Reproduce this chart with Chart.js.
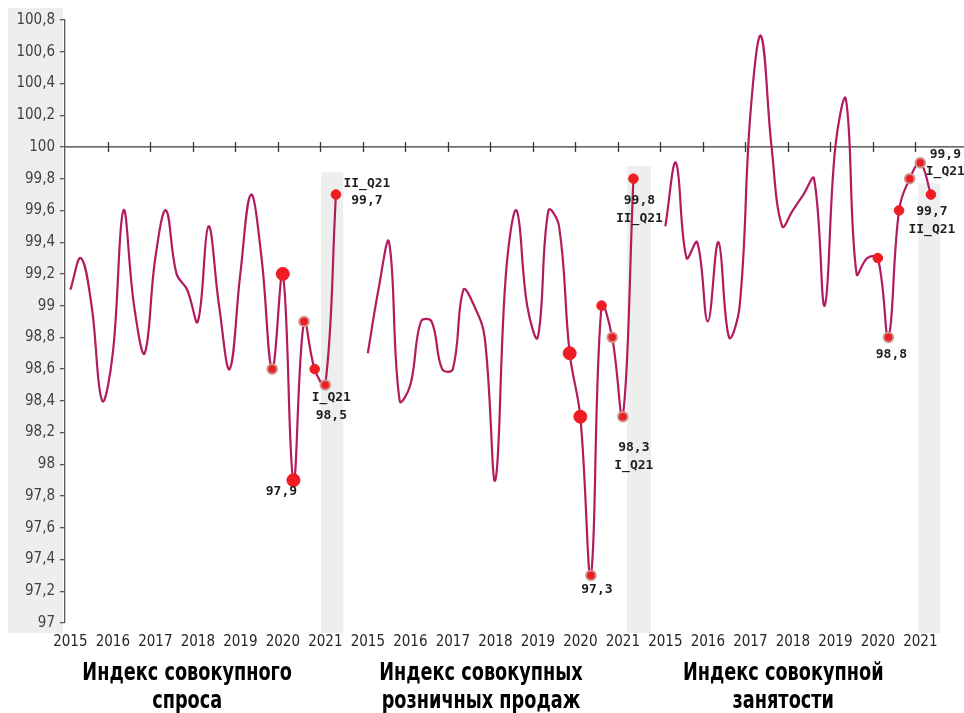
<!DOCTYPE html>
<html><head><meta charset="utf-8">
<script src="https://cdn.jsdelivr.net/npm/chart.js@4.4.1/dist/chart.umd.min.js"></script>
<style>html,body{margin:0;padding:0;background:#fff;}#wrap{position:relative;width:964px;height:713px;}</style>
</head><body><div id="wrap"><canvas id="c" width="964" height="713"></canvas></div>
<script>
// ---- data ----
const years = ['2015','2016','2017','2018','2019','2020','2021'];
const quarterNames = ['I','II','III','IV'];
const panelTitles = [
  ['Индекс совокупного','спроса'],
  ['Индекс совокупных','розничных продаж'],
  ['Индекс совокупной','занятости']
];
const demandIndex = [99.1, 99.3, 99.0, 98.4, 98.7, 99.6, 99.0, 98.7, 99.3, 99.6, 99.2, 99.1, 98.9, 99.5, 99.0, 98.6, 99.2, 99.7, 99.3, 98.6, 99.2, 97.9, 98.9, 98.6, 98.5, 99.7];
const retailIndex = [98.7, 99.1, 99.4, 98.4, 98.5, 98.9, 98.9, 98.6, 98.6, 99.1, 99.0, 98.8, 97.9, 99.2, 99.6, 99.0, 98.8, 99.6, 99.5, 98.7, 98.3, 97.3, 99.0, 98.8, 98.3, 99.8];
const employmentIndex = [99.5, 99.9, 99.3, 99.4, 98.9, 99.4, 98.8, 99.0, 100.2, 100.7, 100.0, 99.5, 99.6, 99.7, 99.8, 99.0, 100.0, 100.3, 99.2, 99.3, 99.3, 98.8, 99.6, 99.8, 99.9, 99.7];
const yTickValues = [97, 97.2, 97.4, 97.6, 97.8, 98, 98.2, 98.4, 98.6, 98.8, 99, 99.2, 99.4, 99.6, 99.8, 100, 100.2, 100.4, 100.6, 100.8];
const axisCross = 100;

// ---- style config (not data) ----
const seriesList = [demandIndex, retailIndex, employmentIndex];
const markerStyle = [
  {from: 19, big: [20, 21], halo: [19, 22, 24]},
  {from: 19, big: [19, 20], halo: [21, 23, 24]},
  {from: 20, big: [], halo: [21, 23, 24]}
];
// callouts: series, offset in series, lines ('v' = value, 'q' = quarter tag), dx, dy per line (px from point)
const callouts = [
  {s: 0, i: 21, lines: ['v'], dx: -12, dy: [11]},
  {s: 0, i: 24, lines: ['q', 'v'], dx: 6, dy: [13, 31]},
  {s: 0, i: 25, lines: ['q', 'v'], dx: 31, dy: [-11, 6]},
  {s: 1, i: 21, lines: ['v'], dx: 6, dy: [14]},
  {s: 1, i: 24, lines: ['v', 'q'], dx: 11, dy: [31, 49]},
  {s: 1, i: 25, lines: ['v', 'q'], dx: 6, dy: [22, 40]},
  {s: 2, i: 21, lines: ['v'], dx: 3, dy: [17]},
  {s: 2, i: 24, lines: ['v', 'q'], dx: 25, dy: [-8, 9]},
  {s: 2, i: 25, lines: ['v', 'q'], dx: 1, dy: [17, 35]}
];
// shaded 2021 bands, in category-index units and value units
const bands = [
  {from: 23.6, to: 25.7, top: 99.84},
  {from: 52.4, to: 54.65, top: 99.88},
  {from: 79.8, to: 81.9, top: 99.77}
];
const titleAnchors = [11, 38.65, 67.1];

const slots = years.length * 4;
const labels = [];
seriesList.forEach(() => years.forEach(y => quarterNames.forEach((q, qi) => labels.push(qi === 0 ? y : ''))));

const fmt = v => String(Math.round(v * 10) / 10).replace('.', ',');
const qTag = i => quarterNames[i % 4] + '_Q' + years[Math.floor(i / 4)].slice(2);

const LINE = '#B31B5F', DOT = '#EE1D23', HALO = '#C9968C';

const datasets = seriesList.map((s, p) => {
  const data = new Array(labels.length).fill(null);
  s.forEach((v, i) => { data[p * slots + i] = v; });
  const st = markerStyle[p];
  const off = ctx => ctx.dataIndex - p * slots;
  return {
    data,
    borderColor: LINE,
    borderWidth: 2.2,
    tension: 0.4,
    fill: false,
    spanGaps: false,
    pointRadius: ctx => { const o = off(ctx); if (o < st.from || o >= s.length) return 0; return st.big.includes(o) ? 6.5 : 4.8; },
    pointBackgroundColor: DOT,
    pointBorderColor: ctx => st.halo.includes(off(ctx)) ? HALO : DOT,
    pointBorderWidth: ctx => st.halo.includes(off(ctx)) ? 2 : 1
  };
});

const decor = {
  id: 'decor',
  beforeDraw(chart) {
    const {ctx, chartArea: a, scales: {x, y}} = chart;
    ctx.save();
    ctx.fillStyle = '#EDEFEE';
    ctx.fillRect(8, a.top - 12, a.left - 10, a.bottom + 10 - (a.top - 12));
    bands.forEach(b => {
      const x0 = x.getPixelForValue(b.from), x1 = x.getPixelForValue(b.to);
      const y0 = y.getPixelForValue(b.top);
      ctx.fillRect(x0, y0, x1 - x0, a.bottom + 10 - y0);
    });
    ctx.restore();
  },
  beforeDatasetsDraw(chart) {
    const {ctx, chartArea: a, scales: {x, y}} = chart;
    const yy = y.getPixelForValue(axisCross);
    ctx.save();
    ctx.strokeStyle = '#3A3A3A';
    ctx.lineWidth = 1.3;
    ctx.beginPath();
    ctx.moveTo(a.left, yy); ctx.lineTo(chart.width, yy);
    for (let k = 1; k < labels.length / 4; k++) {
      const xx = Math.round((x.getPixelForValue(4 * k - 1) + x.getPixelForValue(4 * k)) / 2) + 0.5;
      ctx.moveTo(xx, yy - 5); ctx.lineTo(xx, yy + 5);
    }
    ctx.stroke();
    ctx.restore();
  },
  afterDatasetsDraw(chart) {
    const {ctx} = chart;
    ctx.save();
    ctx.font = 'bold 13px "DejaVu Sans Mono", monospace';
    ctx.fillStyle = '#1E1E1E';
    ctx.textAlign = 'center';
    ctx.textBaseline = 'middle';
    callouts.forEach(c => {
      const pt = chart.getDatasetMeta(c.s).data[c.s * slots + c.i];
      const v = seriesList[c.s][c.i];
      c.lines.forEach((l, li) => {
        ctx.fillText(l === 'v' ? fmt(v) : qTag(c.i), pt.x + c.dx, pt.y + c.dy[li]);
      });
    });
    ctx.restore();
  },
  afterDraw(chart) {
    const {ctx, scales: {x}} = chart;
    ctx.save();
    ctx.font = 'bold 24px "Liberation Sans Narrow", "DejaVu Sans Condensed", sans-serif';
    ctx.fillStyle = '#000';
    ctx.textAlign = 'center';
    ctx.textBaseline = 'alphabetic';
    panelTitles.forEach((t, p) => {
      const cx = x.getPixelForValue(titleAnchors[p]);
      [[t[0], 680], [t[1], 708]].forEach(([txt, by]) => {
        ctx.save();
        ctx.translate(cx, by);
        ctx.scale(0.82, 1);
        ctx.fillText(txt, 0, 0);
        ctx.restore();
      });
    });
    ctx.restore();
  }
};

new Chart(document.getElementById('c'), {
  type: 'line',
  data: {labels, datasets},
  options: {
    responsive: false,
    animation: false,
    layout: {padding: {top: 20, right: 6.5, bottom: 0, left: 0}},
    plugins: {legend: {display: false}, tooltip: {enabled: false}},
    scales: {
      x: {
        type: 'category',
        offset: true,
        grid: {display: false},
        border: {display: false},
        ticks: {
          autoSkip: false, maxRotation: 0, minRotation: 0, padding: 2,
          color: '#262626',
          font: {family: '"Liberation Sans Narrow", "DejaVu Sans Condensed", sans-serif', size: 15}
        },
        afterFit: s => { s.height = 90; }
      },
      y: {
        min: 97, max: 100.8,
        afterBuildTicks: s => { s.ticks = yTickValues.map(v => ({value: v})); },
        grid: {drawOnChartArea: false, drawTicks: true, tickLength: 5, color: '#595959', lineWidth: 1.3},
        border: {display: true, color: '#595959', width: 1.3},
        ticks: {
          padding: 5, color: '#404040',
          font: {family: '"Liberation Sans Narrow", "DejaVu Sans Condensed", sans-serif', size: 15},
          callback: v => fmt(v)
        },
        afterFit: s => { s.width = 65; }
      }
    }
  },
  plugins: [decor]
});
</script></body></html>
